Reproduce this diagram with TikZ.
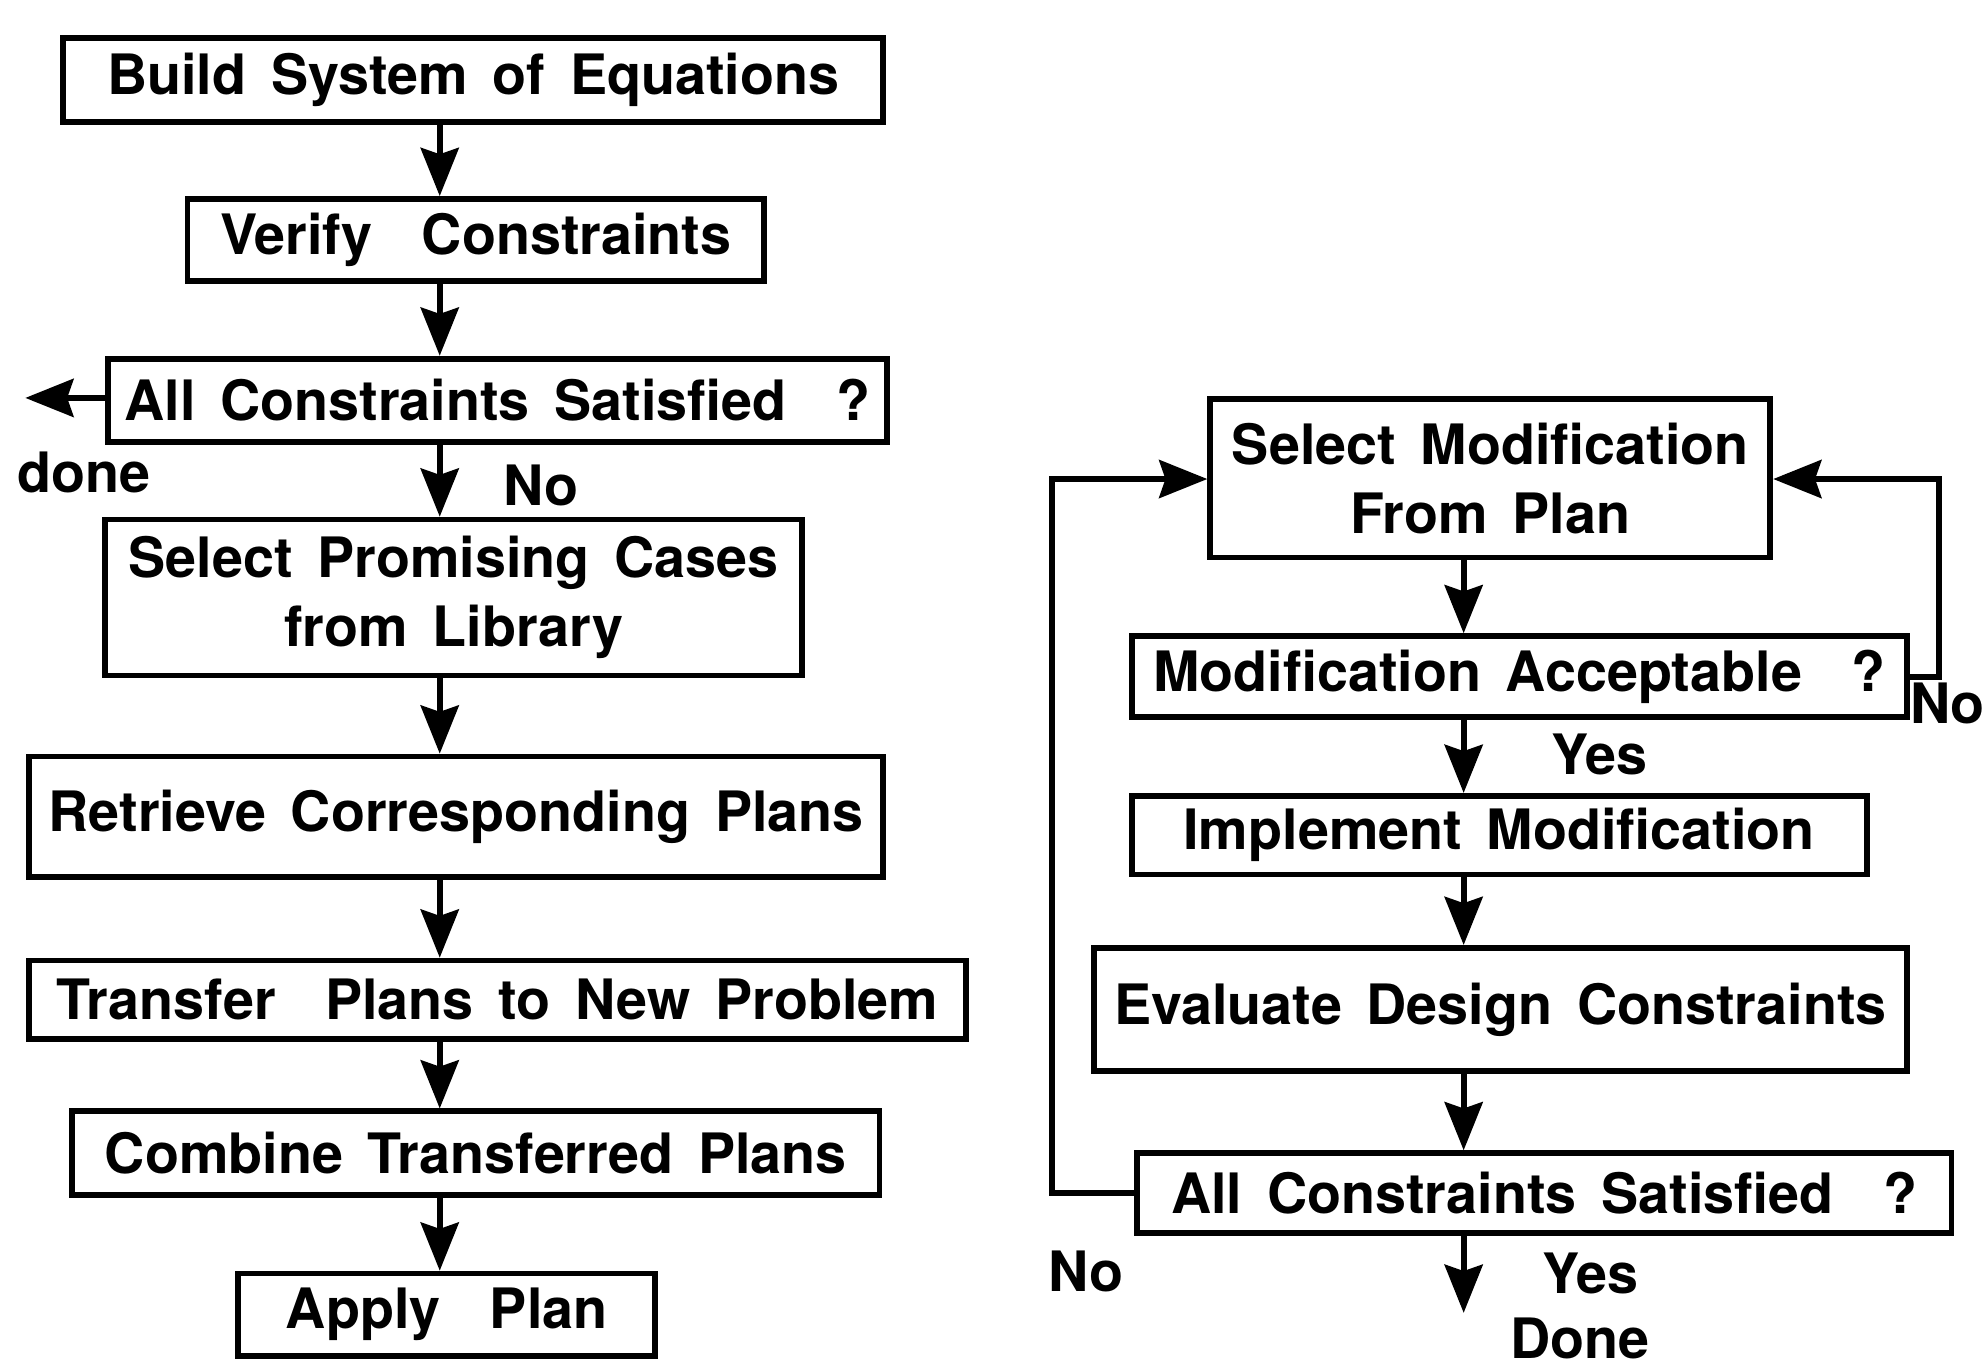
\documentclass[tikz,border=0pt]{standalone}
\usepackage{fontspec}
\setmainfont{TeX Gyre Heros}[WordSpace=1.6]
\usepackage{tikz}
\usetikzlibrary{arrows.meta}

\begin{document}
\begin{tikzpicture}[every edge/.style={draw,solid,line width=1.3pt},
                    box/.style={draw,line width=1.3pt,inner sep=0pt,align=center},
                    lbl/.style={inner sep=0pt},
                    every node/.style={font=\fontsize{12.5}{15.6}\selectfont\bfseries},
                    >={Stealth[length=3.8mm,width=3.0mm,inset=0.5mm]}]
\useasboundingbox (0,0) rectangle (15.68,-10.76);

% left column
\node[box, minimum width=6.47cm, minimum height=0.66cm] (build) at (3.735,-0.63) {Build System of Equations};
\node[box, minimum width=4.55cm, minimum height=0.65cm] (verify) at (3.755,-1.895) {Verify \ Constraints};
\node[box, minimum width=6.15cm, minimum height=0.66cm] (allsat) at (3.925,-3.16) {All Constraints Satisfied \ ?};
\node[box, minimum width=5.50cm, minimum height=1.23cm] (select) at (3.58,-4.715) {Select Promising Cases\\from Library};
\node[box, minimum width=6.74cm, minimum height=0.95cm] (retrieve) at (3.60,-6.445) {Retrieve Corresponding Plans};
\node[box, minimum width=7.39cm, minimum height=0.62cm] (transfer) at (3.925,-7.89) {Transfer \ Plans to New Problem};
\node[box, minimum width=6.37cm, minimum height=0.66cm] (combine) at (3.755,-9.10) {Combine Transferred Plans};
\node[box, minimum width=3.29cm, minimum height=0.65cm] (apply) at (3.525,-10.375) {Apply \ Plan};

\coordinate (lcol) at (3.47,0);
\coordinate (done) at (0.2,-3.14);
\node[lbl] (donelbl) at (0.66,-3.73) {done};
\node[lbl] (no1) at (4.27,-3.83) {No};

\path[->]
(build.south -| lcol) edge (verify.north -| lcol)
(verify.south -| lcol) edge (allsat.north -| lcol)
(allsat.south -| lcol) edge (select.north -| lcol)
(select.south -| lcol) edge (retrieve.north -| lcol)
(retrieve.south -| lcol) edge (transfer.north -| lcol)
(transfer.south -| lcol) edge (combine.north -| lcol)
(combine.south -| lcol) edge (apply.north -| lcol)
(allsat.west |- done) edge (done);

% right column
\node[box, minimum width=4.42cm, minimum height=1.25cm] (selmod) at (11.76,-3.775) {Select Modification\\From Plan};
\node[box, minimum width=6.12cm, minimum height=0.64cm] (accept) at (11.99,-5.34) {Modification Acceptable \ ?};
\node[box, minimum width=5.80cm, minimum height=0.62cm] (implement) at (11.83,-6.59) {Implement Modification};
\node[box, minimum width=6.42cm, minimum height=0.97cm] (evaluate) at (11.84,-7.965) {Evaluate Design Constraints};
\node[box, minimum width=6.43cm, minimum height=0.63cm] (allsat2) at (12.185,-9.415) {All Constraints Satisfied \ ?};

\coordinate (rcol) at (11.55,0);
\coordinate (rloop) at (15.30,-3.78);
\coordinate (lloop) at (8.30,-3.78);
\coordinate (fin) at (11.55,-10.36);
\node[lbl, anchor=east] (no2) at (15.67,-5.55) {No};
\node[lbl] (yes1) at (12.62,-5.95) {Yes};
\node[lbl] (no3) at (8.57,-10.03) {No};
\node[lbl] (yes2) at (12.55,-10.05) {Yes};
\node[lbl] (donelbl2) at (12.47,-10.56) {Done};

\path[->]
(selmod.south -| rcol) edge (accept.north -| rcol)
(accept.south -| rcol) edge (implement.north -| rcol)
(implement.south -| rcol) edge (evaluate.north -| rcol)
(evaluate.south -| rcol) edge (allsat2.north -| rcol)
(allsat2.south -| rcol) edge (fin);

\draw[->, line width=1.3pt] (accept.east) -| (rloop) -- (selmod.east |- rloop);
\draw[->, line width=1.3pt] (allsat2.west) -| (lloop) -- (selmod.west |- lloop);
\end{tikzpicture}
\end{document}
